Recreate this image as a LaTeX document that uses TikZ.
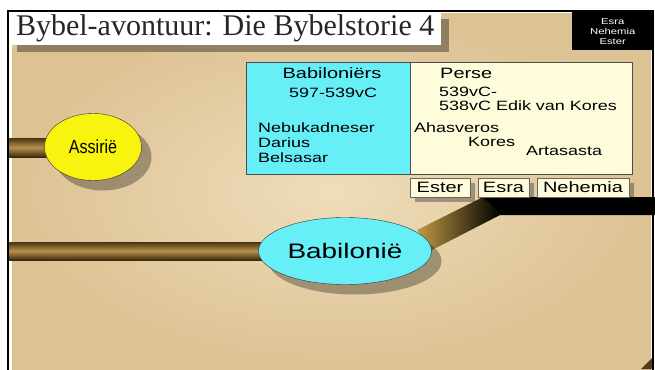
\documentclass[tikz,border=0pt]{standalone}
\usepackage{fontspec}
\usepackage{graphicx}
\setmainfont{Liberation Serif}
\setsansfont{Liberation Sans}
\usetikzlibrary{shapes.geometric,shadows}
\pgfdeclarelayer{paper}
\pgfdeclarelayer{bars}
\pgfsetlayers{paper,bars,main}
\definecolor{paperdark}{HTML}{DDC293}
\definecolor{paperlight}{HTML}{EEDDBB}
\definecolor{babcyan}{HTML}{66EFF6}
\definecolor{persecream}{HTML}{FEFCDA}
\definecolor{assyellow}{HTML}{F8F410}
\definecolor{bardark}{HTML}{4A3310}
\definecolor{barlight}{HTML}{B8904A}
\newcommand{\wide}[1]{\scalebox{1.33}[1]{#1}}
\newcommand{\fs}[1]{\fontsize{#1}{#1}\selectfont}
\tikzset{
    cell/.style={draw=black!70, rectangle, anchor=north west, inner sep=0pt},
    txt/.style={anchor=base west, inner sep=0pt, font=\sffamily\fs{13.5}},
    kingdom/.style={draw=black!80, ellipse, inner sep=0pt, font=\sffamily,
        drop shadow={shadow xshift=10pt, shadow yshift=-10pt, fill=black, opacity=0.3}},
    book/.style={draw=black!60, fill=persecream, rectangle, inner sep=0pt,
        minimum height=19pt, font=\sffamily\fs{15},
        drop shadow={shadow xshift=5pt, shadow yshift=-5pt, fill=black, opacity=0.3}},
    bar/.style={top color=bardark, bottom color=bardark!80!black, middle color=barlight},
}
\begin{document}
\begin{tikzpicture}[x=1pt,y=-1pt]
    \useasboundingbox (0,0) rectangle (655,369);
    \begin{pgfonlayer}{paper}
        \fill[white] (0,0) rectangle (655,369);
        \shade[inner color=paperlight, outer color=paperdark] (12,14) rectangle (651,369);
        \fill[brown!45!black] (641,369) -- (652,358) -- (652,369) -- cycle;
    \end{pgfonlayer}
    \draw[line width=2pt] (7.5,11) rectangle (652.5,372);
    \begin{scope}
        % title and tag
        \node[fill=white, anchor=north west, minimum width=432pt, minimum height=33pt,
            inner sep=0pt, text=black!85, font=\fs{30},
            drop shadow={shadow xshift=8pt, shadow yshift=-7pt, fill=black, opacity=0.35}]
            (title) at (9,12) {Bybel-avontuur: Die Bybelstorie 4};
        \node[fill=black, text=white, anchor=north west, minimum width=81pt, minimum height=38pt,
            inner sep=0pt, align=center, font=\sffamily\fontsize{8.5}{10}\selectfont]
            (tag) at (572,12) {\wide{Esra}\\\wide{Nehemia}\\\wide{Ester}};
        % table
        \node[cell, fill=babcyan, minimum width=164pt, minimum height=112pt] (babcell) at (246,62) {};
        \node[cell, fill=persecream, minimum width=222pt, minimum height=112pt] (persecell) at (410,62) {};
        \node[txt, anchor=base, font=\sffamily\fs{15}] (babhead) at (332,78) {\wide{Babiloniërs}};
        \node[txt] (babdate) at (289,97) {\wide{597-539vC}};
        \node[txt] (nebu) at (258,132) {\wide{Nebukadneser}};
        \node[txt] (darius) at (258,147) {\wide{Darius}};
        \node[txt] (belsasar) at (258,162) {\wide{Belsasar}};
        \node[txt, font=\sffamily\fs{15}] (persehead) at (440,78) {\wide{Perse}};
        \node[txt] (persedate) at (439,96) {\wide{539vC-}};
        \node[txt] (edik) at (439,110) {\wide{538vC Edik van Kores}};
        \node[txt] (ahasveros) at (414,132) {\wide{Ahasveros}};
        \node[txt] (kores) at (468,146) {\wide{Kores}};
        \node[txt] (artasasta) at (526,155) {\wide{Artasasta}};
        % books
        \node[book, minimum width=60pt] (ester) at (440,187.5) {\wide{Ester}};
        \node[book, minimum width=51pt] (esra) at (503.5,187.5) {\wide{Esra}};
        \node[book, minimum width=92pt] (nehemia) at (583,187.5) {\wide{Nehemia}};
        % kingdoms
        \node[kingdom, fill=assyellow, minimum width=97pt, minimum height=67pt, font=\sffamily\fs{19}]
            (assirie) at (93,147) {\scalebox{0.85}[1]{Assirië}};
        \node[kingdom, fill=babcyan, minimum width=173pt, minimum height=67pt, font=\sffamily\fs{21}]
            (babilonie) at (345,251) {\wide{Babilonië}};
    \end{scope}
    \begin{pgfonlayer}{bars}
        \coordinate (assL) at (9,138);
        \coordinate (babL) at (9,242);
        \coordinate (lineR) at (655,206);
        \shade[bar] (assL) rectangle ([yshift=-10pt]assirie.center);
        \shade[bar] (babL) rectangle ([yshift=-9pt]babilonie.center);
        \shade[left color=barlight!90!yellow, right color=black]
            ([shift={(72pt,21pt)}]babilonie.center) -- ([shift={(-172pt,9pt)}]lineR)
            -- ([shift={(-155pt,-9pt)}]lineR) -- ([shift={(87pt,1pt)}]babilonie.center) -- cycle;
        \fill[black] ([shift={(-172pt,9pt)}]lineR) -- ([yshift=9pt]lineR)
            -- ([yshift=-9pt]lineR) -- ([shift={(-155pt,-9pt)}]lineR) -- cycle;
    \end{pgfonlayer}
\end{tikzpicture}
\end{document}
